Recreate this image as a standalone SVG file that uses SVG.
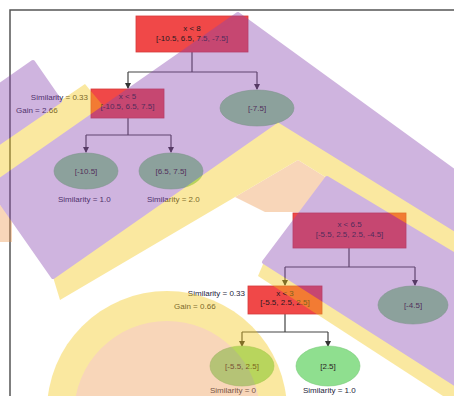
<svg xmlns="http://www.w3.org/2000/svg" width="454" height="396" viewBox="0 0 454 396">
  <defs>
    <marker id="arr" viewBox="0 0 6 6" refX="5" refY="3" markerWidth="5" markerHeight="5" orient="auto">
      <path d="M0,0 L6,3 L0,6 z" fill="#333"/>
    </marker>
    <style>
      .box { fill: #f04848; stroke: #d43a3a; stroke-width: 0.8; }
      .leaf { fill: #8fdf8f; stroke: #7ccb7c; stroke-width: 0.6; }
      .t { font-family: "Liberation Sans", Arial, sans-serif; font-size: 8px; fill: #2a1a22; text-anchor: middle; }
      .lbl { font-family: "Liberation Sans", Arial, sans-serif; font-size: 8px; fill: #1e1e3a; }
      .edge { fill: none; stroke: #444; stroke-width: 1.2; }
      .wm { opacity: 0.4; }
      .pu { fill: #8a46b0; stroke: #8a46b0; stroke-width: 4; stroke-linejoin: round; }
      .ye { fill: #f5c814; }
      .pe { fill: #ee9a52; }
    </style>
  </defs>
  <rect x="0" y="0" width="454" height="396" fill="#ffffff"/>
  <rect x="10" y="10" width="470" height="420" fill="none" stroke="#555" stroke-width="1.5"/>

  <g id="connectors">
    <path class="edge" d="M192,52 V72 M128,72 H257"/>
    <path class="edge" marker-end="url(#arr)" d="M128,72 V88"/>
    <path class="edge" marker-end="url(#arr)" d="M257,72 V89"/>
    <path class="edge" d="M128,118 V135 M86,135 H171"/>
    <path class="edge" marker-end="url(#arr)" d="M86,135 V152"/>
    <path class="edge" marker-end="url(#arr)" d="M171,135 V152"/>
    <path class="edge" d="M349,248 V267 M285,267 H415"/>
    <path class="edge" marker-end="url(#arr)" d="M285,267 V285"/>
    <path class="edge" marker-end="url(#arr)" d="M415,267 V285"/>
    <path class="edge" d="M285,314 V332 M242,332 H328"/>
    <path class="edge" marker-end="url(#arr)" d="M242,332 V346"/>
    <path class="edge" marker-end="url(#arr)" d="M328,332 V346"/>
  </g>

  <g id="t1-root">
    <rect class="box" x="136" y="16" width="112" height="36"/>
    <text class="t" x="192" y="31">x &lt; 8</text>
    <text class="t" x="192" y="41">[-10.5, 6.5, 7.5, -7.5]</text>
  </g>
  <g id="t1-split">
    <rect class="box" x="91" y="89" width="73" height="29"/>
    <text class="t" x="127.5" y="99">x &lt; 5</text>
    <text class="t" x="127.5" y="109">[-10.5, 6.5, 7.5]</text>
    <text class="lbl" x="88" y="100" text-anchor="end">Similarity = 0.33</text>
    <text class="lbl" x="16" y="113">Gain = 2.66</text>
  </g>
  <g id="t1-leaf-right">
    <ellipse class="leaf" cx="257" cy="108" rx="37" ry="18"/>
    <text class="t" x="257" y="111">[-7.5]</text>
  </g>
  <g id="t1-leaf-a">
    <ellipse class="leaf" cx="86" cy="171" rx="32" ry="18"/>
    <text class="t" x="86" y="174">[-10.5]</text>
    <text class="lbl" x="58" y="202">Similarity = 1.0</text>
  </g>
  <g id="t1-leaf-b">
    <ellipse class="leaf" cx="171" cy="171" rx="32" ry="18"/>
    <text class="t" x="171" y="174">[6.5, 7.5]</text>
    <text class="lbl" x="147" y="202">Similarity = 2.0</text>
  </g>

  <g id="t2-root">
    <rect class="box" x="293" y="213" width="113" height="35"/>
    <text class="t" x="349.5" y="227">x &lt; 6.5</text>
    <text class="t" x="349.5" y="237">[-5.5, 2.5, 2.5, -4.5]</text>
  </g>
  <g id="t2-split">
    <rect class="box" x="248" y="286" width="74" height="28"/>
    <text class="t" x="285" y="296">x &lt; 3</text>
    <text class="t" x="285" y="305">[-5.5, 2.5, 2.5]</text>
    <text class="lbl" x="245" y="296" text-anchor="end">Similarity = 0.33</text>
    <text class="lbl" x="174" y="309">Gain = 0.66</text>
  </g>
  <g id="t2-leaf-right">
    <ellipse class="leaf" cx="413" cy="305" rx="35" ry="19"/>
    <text class="t" x="413" y="308">[-4.5]</text>
  </g>
  <g id="t2-leaf-a">
    <ellipse class="leaf" cx="242" cy="366" rx="32" ry="20"/>
    <text class="t" x="242" y="369">[-5.5, 2.5]</text>
    <text class="lbl" x="210" y="393">Similarity = 0</text>
  </g>
  <g id="t2-leaf-b">
    <ellipse class="leaf" cx="328" cy="366" rx="32" ry="20"/>
    <text class="t" x="328" y="369">[2.5]</text>
    <text class="lbl" x="303" y="393">Similarity = 1.0</text>
  </g>

  <g id="watermark" class="wm">
    <polygon class="pe" points="-5,203 12,210 12,242 -5,242"/>
    <polygon class="pe" points="235,197 298,160 327,178 303,212 265,212"/>
    <circle class="ye" cx="167" cy="411" r="120"/>
    <circle class="pe" cx="167" cy="414" r="93"/>
    <polygon class="ye" points="53,277 278,120 480,245 480,270 327,178 298,160 60,300"/>
    <polygon class="ye" points="-20,156 60,101 85,84 105,108 -20,194"/>
    <polygon class="ye" points="264,262 480,400 480,420 258,276"/>
    <polygon class="pu" points="-10,187 238,14 480,190 480,245 278,120 53,277"/>
    <polygon class="pu" points="33,62 60,101 -20,156 -20,99"/>
    <polygon class="pu" points="327,178 480,270 480,400 264,262"/>
  </g>
</svg>
